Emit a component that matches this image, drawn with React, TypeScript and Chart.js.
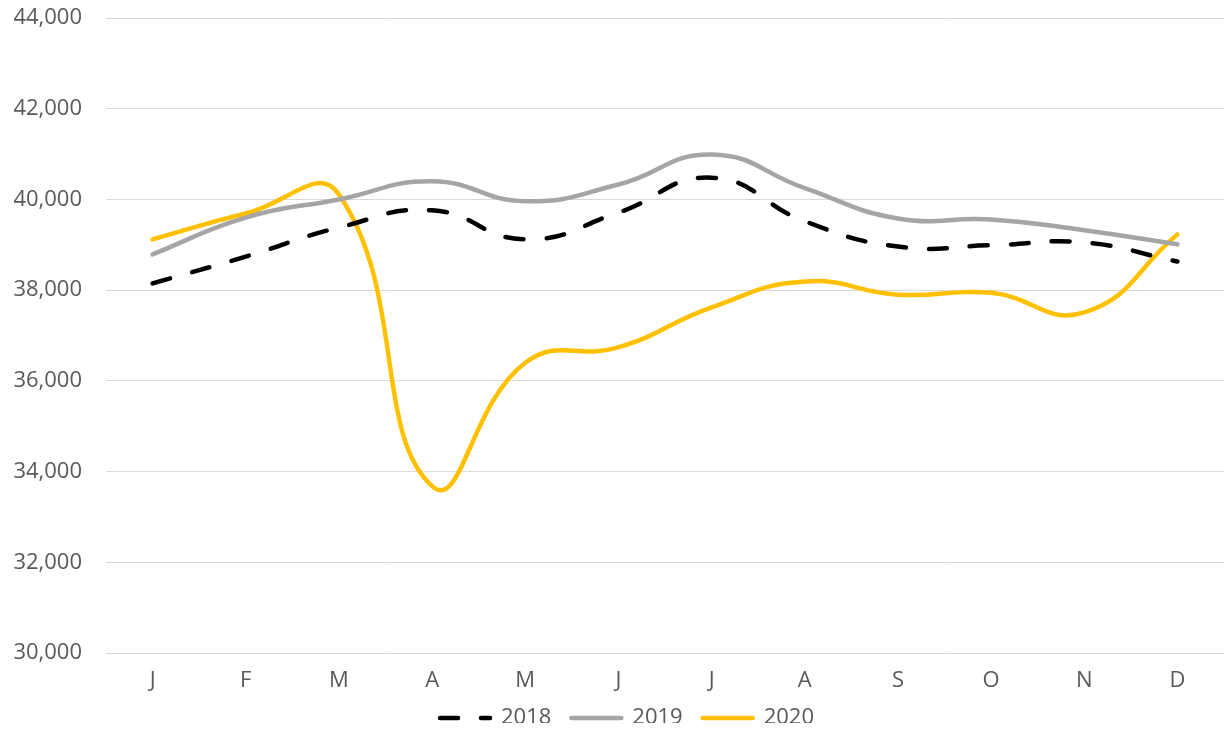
import React, { useEffect, useRef } from "react";
import { Chart, registerables } from "chart.js";

Chart.register(...registerables);

const months = ["J", "F", "M", "A", "M", "J", "J", "A", "S", "O", "N", "D"];
const values2018 = [38150, 38740, 39380, 39760, 39120, 39710, 40480, 39520, 38960, 38990, 39050, 38630];
const values2019 = [38790, 39600, 40000, 40400, 39960, 40330, 40990, 40250, 39580, 39560, 39320, 39010];
const values2020 = [39120, 39690, 40110, 33680, 36400, 36740, 37620, 38190, 37900, 37940, 37510, 39230];
const yTicks = [30000, 32000, 34000, 36000, 38000, 40000, 42000, 44000];

const FONT = "'Open Sans', 'Liberation Sans', sans-serif";
const TEXT = "#595959";
const FS = 22;
const LEGEND_PAD = 20;

const legendShift = {
  id: "legendShift",
  afterLayout(chart: any) {
    const lg = chart.legend;
    if (!lg) return;
    const h = lg.height;
    lg.top = 718 - FS / 2 - LEGEND_PAD;
    lg.bottom = lg.top + h;
    lg.left += 15;
    lg.right += 15;
  },
};

export default function App() {
  const ref = useRef<HTMLCanvasElement | null>(null);

  useEffect(() => {
    if (!ref.current) return;
    const chart = new Chart(ref.current, {
      type: "line",
      data: {
        labels: months,
        datasets: [
          {
            label: "2018",
            data: values2018,
            borderColor: "#000000",
            backgroundColor: "#000000",
            borderWidth: 4.5,
            borderDash: [18, 23],
            borderCapStyle: "round",
            pointRadius: 0,
            tension: 0.47,
          },
          {
            label: "2019",
            data: values2019,
            borderColor: "#A5A5A5",
            backgroundColor: "#A5A5A5",
            borderWidth: 4.5,
            borderCapStyle: "round",
            pointRadius: 0,
            tension: 0.47,
          },
          {
            label: "2020",
            data: values2020,
            borderColor: "#FFC000",
            backgroundColor: "#FFC000",
            borderWidth: 4.5,
            borderCapStyle: "round",
            pointRadius: 0,
            tension: 0.47,
          },
        ],
      },
      plugins: [legendShift],
      options: {
        animation: false,
        responsive: true,
        maintainAspectRatio: false,
        layout: { padding: { top: 18, right: 0, left: 0, bottom: 0 } },
        plugins: {
          tooltip: { enabled: false },
          legend: {
            position: "bottom",
            maxHeight: 36,
            labels: {
              usePointStyle: true,
              pointStyle: "line",
              pointStyleWidth: 50,
              boxWidth: 50,
              boxHeight: FS,
              padding: LEGEND_PAD,
              color: TEXT,
              font: { family: FONT, size: FS },
              generateLabels: (c: any) => {
                const items = Chart.defaults.plugins.legend.labels.generateLabels(c);
                return items.map((it: any) => {
                  const ds: any = c.data.datasets[it.datasetIndex];
                  return {
                    ...it,
                    lineDash: ds.borderDash || [],
                    lineCap: "round",
                    lineWidth: 4.5,
                    strokeStyle: ds.borderColor,
                    fillStyle: ds.borderColor,
                  };
                });
              },
            },
          },
        },
        scales: {
          x: {
            offset: true,
            grid: { display: false },
            border: { display: false },
            ticks: { color: TEXT, font: { family: FONT, size: FS }, padding: 7 },
            afterFit: (axis: any) => {
              axis.height = 40;
            },
          },
          y: {
            min: 30000,
            max: 44000,
            afterBuildTicks: (axis: any) => {
              axis.ticks = yTicks.map((v) => ({ value: v }));
            },
            afterFit: (axis: any) => {
              axis.width = 106;
              axis.paddingTop = 0;
              axis.paddingBottom = 0;
            },
            grid: { color: "#D9D9D9", lineWidth: 1, drawTicks: false },
            border: { display: false },
            ticks: {
              color: TEXT,
              font: { family: FONT, size: FS },
              padding: 24,
              callback: (v: any) => Number(v).toLocaleString("en-US"),
            },
          },
        },
      },
    });
    return () => chart.destroy();
  }, []);

  return (
    <div style={{ position: "fixed", left: 0, top: 0, width: 1224, height: 729, background: "#fff" }}>
      <canvas ref={ref} />
    </div>
  );
}
